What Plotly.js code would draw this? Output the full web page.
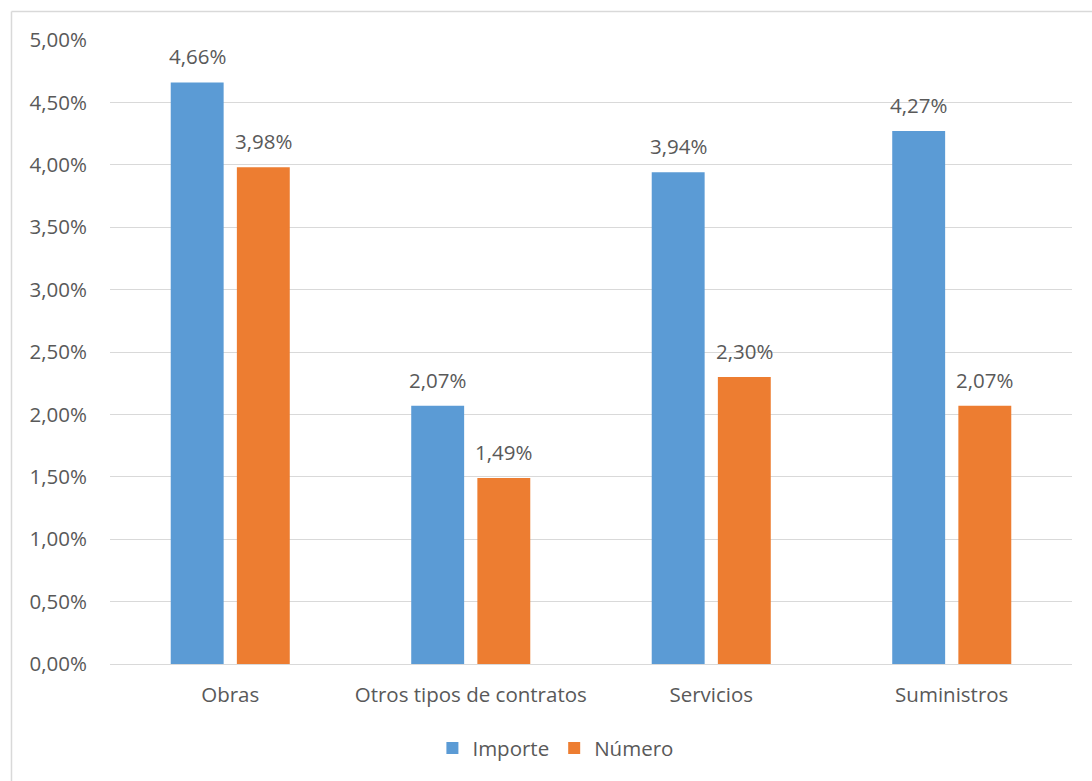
<!DOCTYPE html>
<html>
<head>
<meta charset="utf-8">
<script src="https://cdn.plot.ly/plotly-3.0.1.min.js"></script>
<style>html,body{margin:0;padding:0;background:#fff;}#chart{width:1092px;height:781px;}</style>
</head>
<body>
<div id="chart"></div>
<script>
const categories = ["Obras", "Otros tipos de contratos", "Servicios", "Suministros"];
const importe = [4.66, 2.07, 3.94, 4.27];
const numero = [3.98, 1.49, 2.30, 2.07];
const seriesNames = ["Importe", "Número"];
const yTicks = [0, 0.5, 1, 1.5, 2, 2.5, 3, 3.5, 4, 4.5, 5];

const fmt = v => v.toFixed(2).replace(".", ",") + "%";
const mkFont = () => ({family: "Open Sans, Liberation Sans, sans-serif", size: 20.5, color: "#595959"});

const BARGAP = 0.45;
const half = (1 - BARGAP) / 4;   // offset of each bar centre from the category centre

const traces = [
  {type: "bar", name: seriesNames[0], x: categories, y: importe, marker: {color: "#5B9BD5"}, hoverinfo: "none"},
  {type: "bar", name: seriesNames[1], x: categories, y: numero, marker: {color: "#ED7D31"}, hoverinfo: "none"}
];

const annotations = [];
[importe, numero].forEach((vals, s) => {
  vals.forEach((v, i) => {
    annotations.push({
      xref: "x", yref: "y", x: i + (s === 0 ? -half : half), y: v,
      text: fmt(v), showarrow: false, yanchor: "bottom", xanchor: "center",
      yshift: 10, font: mkFont()
    });
  });
});

const layout = {
  width: 1092, height: 781,
  margin: {l: 110, r: 20, t: 40, b: 117},
  paper_bgcolor: "#fff", plot_bgcolor: "#fff",
  font: mkFont(),
  barmode: "group", bargap: BARGAP, bargroupgap: 0.2,
  showlegend: true,
  legend: {orientation: "h", x: 0.463, xanchor: "center", y: -0.135, yanchor: "middle", font: mkFont(), itemwidth: 30},
  xaxis: {type: "category", showgrid: false, zeroline: false, showline: false, ticks: "", tickfont: mkFont(), ticklabelstandoff: 16},
  yaxis: {range: [0, 5], tickmode: "array", tickvals: yTicks, ticktext: yTicks.map(fmt), showgrid: true, gridcolor: "#D9D9D9", gridwidth: 1,
          zeroline: true, zerolinecolor: "#D9D9D9", zerolinewidth: 1, showline: false, ticks: "", tickfont: mkFont(), ticklabelstandoff: 22},
  annotations: annotations,
  shapes: [
    {type: "line", xref: "paper", yref: "paper", x0: -0.1024, x1: 1.03, y0: 1.0458, y1: 1.0458, line: {color: "#D9D9D9", width: 1.5}},
    {type: "line", xref: "paper", yref: "paper", x0: -0.1024, x1: -0.1024, y0: 1.0458, y1: -0.3, line: {color: "#D9D9D9", width: 1.5}}
  ]
};

Plotly.newPlot("chart", traces, layout, {displayModeBar: false, staticPlot: true});
</script>
</body>
</html>
